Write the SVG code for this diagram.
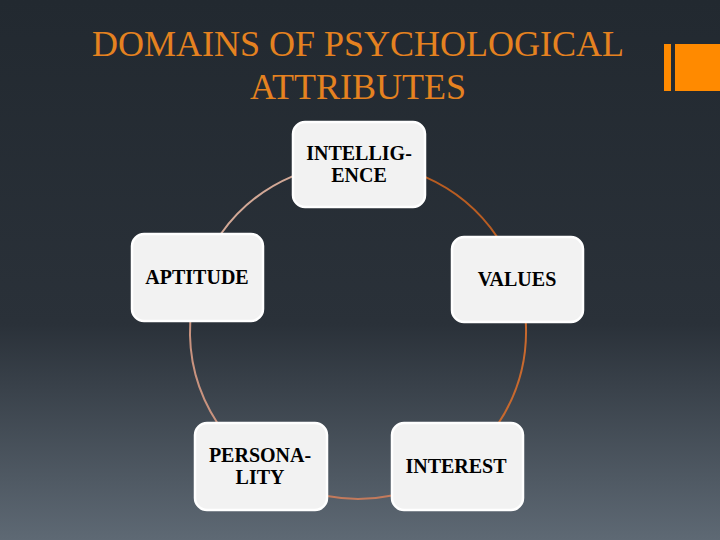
<svg xmlns="http://www.w3.org/2000/svg" width="720" height="540" viewBox="0 0 720 540">
<defs>
<linearGradient id="bg" x1="0" y1="0" x2="0" y2="1">
<stop offset="0" stop-color="#222930"/>
<stop offset="0.6" stop-color="#2a3139"/>
<stop offset="1" stop-color="#5e6974"/>
</linearGradient>
<style>
.box{fill:#f2f2f2;stroke:#ffffff;stroke-width:2.5}
.lbl{font-family:"Liberation Serif","Times New Roman",serif;font-weight:bold;font-size:20px;fill:#000;text-anchor:middle}
.title{font-family:"Liberation Serif","Times New Roman",serif;font-size:36px;fill:#e58220;text-anchor:middle}
.arc{fill:none;stroke-width:2}
</style>
</defs>
<rect width="720" height="540" fill="url(#bg)"/>
<rect x="664" y="44" width="7" height="47" fill="#ff8a00"/>
<rect x="675" y="44" width="45" height="47" fill="#ff8a00"/>
<text class="title" x="358" y="56">DOMAINS OF PSYCHOLOGICAL</text>
<text class="title" x="358" y="99">ATTRIBUTES</text>
<g id="connectors">
<path class="arc" stroke="#d2a896" d="M293,176.1 A168,168 0 0 0 220.8,234"/>
<path class="arc" stroke="#c9937f" d="M190.3,321 A168,168 0 0 0 217.4,423"/>
<path class="arc" stroke="#c27a5c" d="M327,496.1 A168,168 0 0 0 392,495.5"/>
<path class="arc" stroke="#c8692e" d="M498.6,423 A168,168 0 0 0 525.8,322"/>
<path class="arc" stroke="#b95d22" d="M497.2,237 A168,168 0 0 0 425,176.9"/>
</g>
<g id="intelligence">
<rect class="box" x="293" y="122" width="132" height="85" rx="12"/>
<text class="lbl" x="359" y="160">INTELLIG-</text>
<text class="lbl" x="359" y="182">ENCE</text>
</g>
<g id="aptitude">
<rect class="box" x="132" y="234" width="131" height="87" rx="12"/>
<text class="lbl" x="197" y="284">APTITUDE</text>
</g>
<g id="values">
<rect class="box" x="452" y="237" width="131" height="85" rx="12"/>
<text class="lbl" x="517" y="286">VALUES</text>
</g>
<g id="personality">
<rect class="box" x="195" y="423" width="132" height="87" rx="12"/>
<text class="lbl" x="260" y="462">PERSONA-</text>
<text class="lbl" x="260" y="484">LITY</text>
</g>
<g id="interest">
<rect class="box" x="392" y="423" width="131" height="87" rx="12"/>
<text class="lbl" x="456" y="473">INTEREST</text>
</g>
</svg>
